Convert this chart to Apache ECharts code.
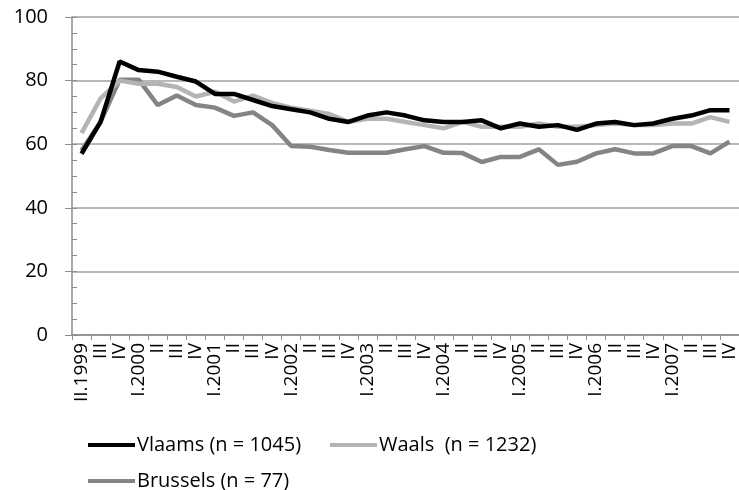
<!DOCTYPE html>
<html>
<head>
<meta charset="utf-8">
<script src="https://cdn.jsdelivr.net/npm/echarts@6/dist/echarts.min.js"></script>
<style>
  html, body { margin: 0; padding: 0; background: #fff; }
  #main { width: 739px; height: 490px; }
</style>
</head>
<body>
<div id="main"></div>
<script>
  // kwartalen II.1999 - IV.2007
  var quarters = ['II.1999', 'III', 'IV',
    'I.2000', 'II', 'III', 'IV',
    'I.2001', 'II', 'III', 'IV',
    'I.2002', 'II', 'III', 'IV',
    'I.2003', 'II', 'III', 'IV',
    'I.2004', 'II', 'III', 'IV',
    'I.2005', 'II', 'III', 'IV',
    'I.2006', 'II', 'III', 'IV',
    'I.2007', 'II', 'III', 'IV'];

  var vlaams = [57, 67, 86, 83.3, 82.8, 81.2, 79.7, 75.8, 75.8, 73.9, 72,
    71, 70, 68, 67, 69, 70, 69, 67.5, 67, 67, 67.5, 65, 66.5, 65.5, 66, 64.5,
    66.5, 67, 66, 66.5, 68, 69, 70.7, 70.7];
  var waals = [63.5, 74.4, 80, 79, 79, 78, 75, 76.5, 73.4, 75.3, 73,
    71.5, 70.5, 69.5, 67, 68, 68, 67, 66, 65, 67, 65.5, 65.5, 65.5, 66.5, 65.5, 65.5,
    66, 66.5, 66, 66, 66.5, 66.5, 68.5, 67];
  var brussels = [58, 67, 80.3, 80.3, 72.3, 75.3, 72.3, 71.5, 68.9, 70, 66,
    59.4, 59.2, 58.2, 57.3, 57.3, 57.3, 58.4, 59.4, 57.3, 57.2, 54.4, 56, 56, 58.4, 53.5, 54.5,
    57.1, 58.4, 57.1, 57.1, 59.4, 59.4, 57.1, 60.8];

  var names = ['Vlaams (n = 1045)', 'Waals  (n = 1232)', 'Brussels (n = 77)'];
  var colors = ['#000000', '#b4b4b4', '#848484'];
  var font = '"Open Sans", sans-serif';

  var chart = echarts.init(document.getElementById('main'));

  function legendItem(name, left, top) {
    return {
      data: [name],
      left: left,
      top: top,
      icon: 'rect',
      itemWidth: 47,
      itemHeight: 4,
      textStyle: { fontFamily: font, fontSize: 20, color: '#000', padding: [0, 0, 0, -3] }
    };
  }

  var axisGray = '#8c8c8c';

  chart.setOption({
    animation: false,
    color: colors,
    grid: { left: 72, right: -8, top: 17, bottom: 155, containLabel: false },
    legend: [
      legendItem(names[0], 83, 430),
      legendItem(names[1], 325, 430),
      legendItem(names[2], 83, 466)
    ],
    xAxis: {
      type: 'category',
      data: quarters,
      boundaryGap: true,
      axisLine: { lineStyle: { color: axisGray, width: 1.5 } },
      axisTick: { show: true, length: 5, alignWithLabel: false, lineStyle: { color: axisGray } },
      axisLabel: {
        interval: 0,
        rotate: 90,
        margin: 8,
        fontFamily: font,
        fontSize: 19,
        color: '#000'
      },
      splitLine: { show: false }
    },
    yAxis: [{
      type: 'value',
      min: 0,
      max: 100,
      interval: 20,
      axisLine: { show: true, lineStyle: { color: axisGray, width: 1.5 } },
      axisTick: { show: true, length: 7, lineStyle: { color: axisGray } },
      axisLabel: { margin: 24, fontFamily: font, fontSize: 20, color: '#000' },
      splitLine: { show: true, lineStyle: { color: '#a0a0a0', width: 1.5 } }
    }, {
      type: 'value',
      position: 'left',
      min: 0,
      max: 100,
      interval: 5,
      axisLine: { show: false },
      axisTick: { show: true, inside: true, length: 5, lineStyle: { color: axisGray } },
      axisLabel: { show: false },
      splitLine: { show: false }
    }],
    series: [
      { name: names[0], type: 'line', data: vlaams, showSymbol: false, lineStyle: { width: 4.5, color: colors[0] }, z: 3 },
      { name: names[1], type: 'line', data: waals, showSymbol: false, lineStyle: { width: 4.5, color: colors[1] }, z: 2 },
      { name: names[2], type: 'line', data: brussels, showSymbol: false, lineStyle: { width: 4.5, color: colors[2] }, z: 1 }
    ]
  });
</script>
</body>
</html>
